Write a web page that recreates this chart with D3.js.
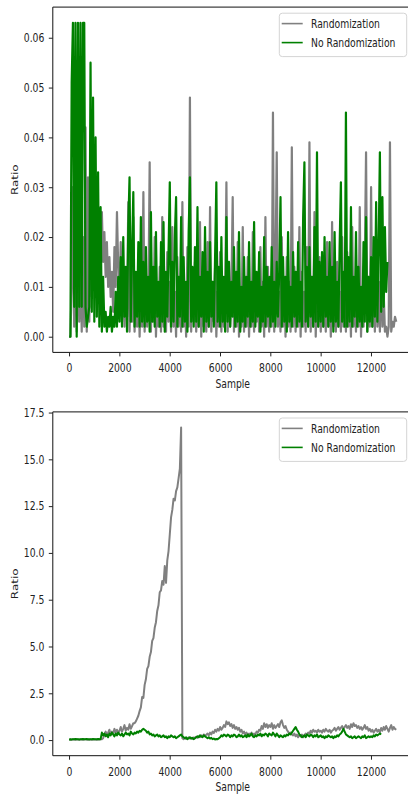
<!DOCTYPE html>
<html>
<head>
<meta charset="utf-8">
<script src="https://cdn.jsdelivr.net/npm/d3@7"></script>
<style>
  body { margin: 0; background: #fff; }
  svg { display: block; }
</style>
</head>
<body>
<div id="chart"></div>
<script>
// series names / colours shared by both panels
const seriesNames = ["Randomization", "No Randomization"]
const seriesColors = ["grey", "green"]

const xTicks = [0, 2000, 4000, 6000, 8000, 10000, 12000]
const topYTicks = [0, 0.01, 0.02, 0.03, 0.04, 0.05, 0.06]
const botYTicks = [0, 2.5, 5, 7.5, 10, 12.5, 15, 17.5]

// top panel: one value every 50 samples
const TOP_STEP = 50
const topRand = [
  0, 0, 0.010, 0.030, 0.002, 0.025, 0.001, 0.020, 0.003, 0.015, 0.001, 0.020, 0.002, 0.042, 0.001, 0.032, 0.003, 0.030, 0.008, 0.028,
  0.020, 0.012, 0.024, 0.014, 0.022, 0.013, 0.025, 0.015, 0.021, 0.012, 0.019, 0.010, 0.016, 0.008, 0.013, 0.005, 0.018, 0.010, 0.025, 0.014,
  0.006, 0.019, 0.003, 0.014, 0.002, 0.010, 0.004, 0.027, 0.001, 0.012, 0.003, 0.024, 0.001, 0.009, 0.002, 0.015, 0.000, 0.011, 0.002, 0.029,
  0.001, 0.013, 0.002, 0.008, 0.035, 0.001, 0.012, 0.003, 0.020, 0.000, 0.009, 0.002, 0.014, 0.001, 0.024, 0.002, 0.010, 0.001, 0.017, 0.003,
  0.011, 0.001, 0.022, 0.002, 0.009, 0.000, 0.016, 0.002, 0.012, 0.001, 0.027, 0.002, 0.008, 0.000, 0.018, 0.002, 0.048, 0.001, 0.011, 0.003,
  0.015, 0.001, 0.010, 0.002, 0.023, 0.000, 0.012, 0.002, 0.008, 0.001, 0.019, 0.002, 0.026, 0.001, 0.011, 0.003, 0.014, 0.000, 0.009, 0.002,
  0.017, 0.001, 0.012, 0.002, 0.008, 0.031, 0.001, 0.015, 0.002, 0.010, 0.028, 0.001, 0.013, 0.002, 0.019, 0.000, 0.009, 0.002, 0.022, 0.001,
  0.012, 0.002, 0.016, 0.000, 0.010, 0.002, 0.021, 0.001, 0.013, 0.003, 0.008, 0.001, 0.018, 0.002, 0.011, 0.000, 0.024, 0.002, 0.014, 0.001,
  0.010, 0.002, 0.045, 0.001, 0.013, 0.037, 0.002, 0.009, 0.001, 0.020, 0.002, 0.012, 0.000, 0.016, 0.002, 0.011, 0.001, 0.038, 0.002, 0.014,
  0.001, 0.010, 0.002, 0.022, 0.000, 0.013, 0.002, 0.009, 0.001, 0.018, 0.002, 0.039, 0.001, 0.012, 0.002, 0.025, 0.000, 0.011, 0.002, 0.016,
  0.001, 0.012, 0.002, 0.008, 0.001, 0.019, 0.002, 0.011, 0.000, 0.023, 0.002, 0.010, 0.001, 0.015, 0.002, 0.009, 0.001, 0.020, 0.002, 0.013,
  0.001, 0.017, 0.002, 0.011, 0.000, 0.022, 0.002, 0.009, 0.001, 0.014, 0.002, 0.026, 0.000, 0.010, 0.002, 0.015, 0.037, 0.001, 0.012, 0.002,
  0.030, 0.002, 0.014, 0.001, 0.020, 0.002, 0.011, 0.001, 0.016, 0.002, 0.009, 0.001, 0.002, 0.000, 0.002, 0.039, 0.001, 0.003, 0.002, 0.004, 0.003
]
const topNoRand = [
  0, 0, 0.051, 0.063, 0.006, 0.063, 0, 0.063, 0.006, 0.063, 0.006, 0.063, 0.063, 0.006, 0.002, 0.004, 0.006, 0.055, 0.005, 0.048,
  0.003, 0.040, 0.004, 0.033, 0.002, 0.026, 0.001, 0.012, 0.002, 0.005, 0.001, 0.004, 0.002, 0.006, 0.001, 0.004, 0.002, 0.009, 0.002, 0.012,
  0.003, 0.016, 0.002, 0.020, 0.004, 0.014, 0.001, 0.022, 0.032, 0.003, 0.017, 0.029, 0.002, 0.013, 0.004, 0.019, 0.002, 0.024, 0.003, 0.015,
  0.002, 0.018, 0.003, 0.012, 0.001, 0.025, 0.003, 0.014, 0.002, 0.021, 0.004, 0.011, 0.002, 0.019, 0.003, 0.023, 0.001, 0.013, 0.004, 0.017,
  0.031, 0.002, 0.015, 0.003, 0.020, 0.028, 0.002, 0.012, 0.004, 0.024, 0.002, 0.016, 0.003, 0.011, 0.001, 0.021, 0.032, 0.003, 0.014, 0.002,
  0.018, 0.003, 0.026, 0.002, 0.012, 0.004, 0.017, 0.001, 0.022, 0.003, 0.013, 0.002, 0.019, 0.004, 0.011, 0.002, 0.016, 0.031, 0.003, 0.014,
  0.002, 0.020, 0.003, 0.012, 0.001, 0.024, 0.003, 0.015, 0.002, 0.011, 0.004, 0.018, 0.002, 0.013, 0.003, 0.021, 0.001, 0.010, 0.003, 0.016,
  0.002, 0.012, 0.004, 0.019, 0.002, 0.011, 0.003, 0.023, 0.002, 0.013, 0.004, 0.017, 0.001, 0.010, 0.003, 0.020, 0.002, 0.014, 0.004, 0.012,
  0.002, 0.018, 0.003, 0.011, 0.002, 0.015, 0.004, 0.013, 0.028, 0.002, 0.016, 0.003, 0.012, 0.001, 0.021, 0.003, 0.010, 0.002, 0.017, 0.004,
  0.013, 0.002, 0.019, 0.003, 0.011, 0.002, 0.024, 0.035, 0.003, 0.014, 0.002, 0.018, 0.004, 0.012, 0.002, 0.022, 0.003, 0.037, 0.002, 0.015,
  0.003, 0.017, 0.002, 0.020, 0.004, 0.012, 0.002, 0.019, 0.003, 0.014, 0.001, 0.021, 0.003, 0.011, 0.002, 0.018, 0.031, 0.003, 0.013, 0.002,
  0.045, 0.002, 0.016, 0.003, 0.026, 0.002, 0.012, 0.004, 0.021, 0.002, 0.014, 0.003, 0.010, 0.002, 0.019, 0.003, 0.024, 0.001, 0.012, 0.003,
  0.016, 0.002, 0.020, 0.004, 0.027, 0.003, 0.018, 0.037, 0.005, 0.028, 0.006, 0.022, 0.009, 0.015
]

// bottom panel: one value every 50 samples too
const BOT_STEP = 50
const botRand = [
  0.02, 0.03, 0.02, 0.04, 0.03, 0.02, 0.04, 0.03, 0.02, 0.03, 0.04, 0.02, 0.03, 0.05, 0.03, 0.02, 0.04, 0.03, 0.02, 0.03,
  0.04, 0.03, 0.02, 0.04, 0.03, 0.05, 0.04, 0.10,
  0.30, 0.45, 0.25, 0.40, 0.55, 0.30, 0.45, 0.35, 0.60, 0.40, 0.55, 0.35, 0.50, 0.70, 0.45, 0.60, 0.80, 0.50, 0.65, 0.55,
  0.85, 0.60, 0.75, 0.90,
  0.90, 1.00, 1.15, 1.30, 1.55, 1.75, 2.30, 2.25, 2.95, 3.25, 3.80, 3.95, 4.45, 4.70, 5.30, 5.45, 6.00, 6.30, 6.90, 7.20,
  7.90, 8.00, 8.50, 8.30, 9.30, 8.40, 9.60, 10.1, 11.0, 11.9, 12.3, 12.9, 12.8, 13.3, 13.5, 14.0, 14.5, 16.7,
  0.10, 0.05, 0.12, 0.06, 0.10, 0.15, 0.08, 0.12, 0.07, 0.14,
  0.10, 0.18, 0.12, 0.20, 0.15, 0.25, 0.18, 0.30, 0.22, 0.28,
  0.35, 0.25, 0.40, 0.30, 0.45, 0.38, 0.55, 0.45, 0.60, 0.50,
  0.70, 0.55, 0.65, 0.80, 0.70, 1.00, 0.85, 0.95, 0.75, 0.85,
  0.65, 0.80, 0.60, 0.70, 0.55, 0.65, 0.45, 0.55, 0.35, 0.45,
  0.30, 0.40, 0.25, 0.35, 0.30, 0.40, 0.25, 0.35, 0.30, 0.45,
  0.40, 0.55, 0.50, 0.75, 0.60, 0.90, 0.70, 0.85, 0.65, 0.80,
  0.70, 0.90, 0.60, 0.80, 0.65, 0.75, 0.85, 0.70, 0.95, 1.05,
  0.80, 0.65, 0.75, 0.55, 0.45, 0.35, 0.40, 0.30, 0.25, 0.35,
  0.20, 0.30, 0.15, 0.25, 0.20, 0.30, 0.15, 0.25, 0.35, 0.30,
  0.40, 0.35, 0.50, 0.40, 0.55, 0.45, 0.50, 0.40, 0.55, 0.45,
  0.50, 0.40, 0.55, 0.45, 0.60, 0.50, 0.45, 0.55, 0.40, 0.50,
  0.55, 0.65, 0.50, 0.60, 0.70, 0.55, 0.65, 0.75, 0.60, 0.70,
  0.80, 0.65, 0.75, 0.60, 0.85, 0.70, 0.90, 0.75, 0.80, 0.65,
  0.75, 0.60, 0.70, 0.55, 0.65, 0.80, 0.60, 0.70, 0.50, 0.60,
  0.45, 0.55, 0.40, 0.50, 0.60, 0.45, 0.55, 0.40, 0.65, 0.50,
  0.70, 0.55, 0.75, 0.60, 0.45, 0.65, 0.80, 0.55, 0.70, 0.60, 0.55
]
const botNoRand = [
  0.02, 0.04, 0.03, 0.05, 0.04, 0.06, 0.04, 0.05, 0.03, 0.05, 0.04, 0.06, 0.05, 0.04, 0.06, 0.05, 0.03, 0.05, 0.04, 0.06,
  0.05, 0.04, 0.05, 0.06, 0.04, 0.05,
  0.40, 0.25, 0.35, 0.20, 0.30, 0.15, 0.35, 0.25, 0.40, 0.30, 0.20, 0.35, 0.25, 0.40, 0.30, 0.25, 0.35, 0.20, 0.30, 0.40,
  0.30, 0.35, 0.25, 0.45, 0.35, 0.30, 0.40, 0.35, 0.45, 0.40, 0.50, 0.45, 0.55, 0.60,
  0.55, 0.50, 0.40, 0.45, 0.30, 0.35, 0.25, 0.30, 0.20, 0.25, 0.30, 0.20, 0.25, 0.15, 0.20, 0.25, 0.15, 0.20, 0.10, 0.20,
  0.15, 0.25, 0.20, 0.15, 0.20, 0.10, 0.15, 0.20, 0.25, 0.30,
  0.20, 0.15, 0.10, 0.15, 0.05, 0.10, 0.15, 0.08, 0.12, 0.05,
  0.10, 0.15, 0.20, 0.15, 0.25, 0.20, 0.15, 0.25, 0.20, 0.15,
  0.10, 0.15, 0.08, 0.12, 0.05, 0.08, 0.03, 0.06, 0.04, 0.10,
  0.15, 0.25, 0.20, 0.30, 0.25, 0.20, 0.30, 0.25, 0.15, 0.25,
  0.20, 0.30, 0.25, 0.15, 0.20, 0.30, 0.20, 0.25, 0.15, 0.20,
  0.25, 0.15, 0.30, 0.20, 0.25, 0.35, 0.20, 0.15, 0.25, 0.20,
  0.30, 0.25, 0.35, 0.20, 0.30, 0.25, 0.35, 0.30, 0.20, 0.35,
  0.30, 0.25, 0.40, 0.30, 0.20, 0.35, 0.25, 0.15, 0.25, 0.20,
  0.15, 0.25, 0.20, 0.30, 0.25, 0.35, 0.30, 0.40, 0.50, 0.60,
  0.70, 0.55, 0.45, 0.30, 0.25, 0.15, 0.20, 0.25, 0.15, 0.30,
  0.25, 0.20, 0.30, 0.25, 0.15, 0.25, 0.20, 0.30, 0.15, 0.20,
  0.25, 0.15, 0.20, 0.10, 0.20, 0.15, 0.25, 0.20, 0.15, 0.20,
  0.10, 0.20, 0.15, 0.25, 0.20, 0.30, 0.35, 0.45, 0.60, 0.45,
  0.30, 0.25, 0.20, 0.15, 0.20, 0.10, 0.15, 0.20, 0.10, 0.15,
  0.20, 0.15, 0.10, 0.20, 0.15, 0.25, 0.10, 0.15, 0.20, 0.15,
  0.20, 0.15, 0.25, 0.20, 0.30, 0.25, 0.30, 0.35, 0.30
]

// the picture is squeezed horizontally, so draw in a wider box and squash it
const W = 408, H = 796, SQUASH = 0.77
const sx = px => px / SQUASH

const svg = d3.select("#chart").append("svg")
  .attr("width", W)
  .attr("height", H)
  .attr("viewBox", `0 0 ${W / SQUASH} ${H}`)
  .attr("preserveAspectRatio", "none")
  .style("font-family", "'DejaVu Sans', sans-serif")

function drawPanel(p) {
  const x = d3.scaleLinear().domain([-650, 13650]).range([sx(52.8), sx(412.6)])
  const y = d3.scaleLinear().domain(p.yDomain).range([p.bottom, p.top])
  const [x0, x1] = x.range()
  const g = svg.append("g")

  const line = d3.line()
    .x((d, i) => x(i * p.step))
    .y(d => y(d))

  p.series.forEach((vals, k) => {
    g.append("path")
      .attr("d", line(vals))
      .attr("fill", "none")
      .attr("stroke", seriesColors[k])
      .attr("stroke-width", p.lw)
      .attr("stroke-linejoin", "round")
      .attr("vector-effect", "non-scaling-stroke")
  })

  g.append("rect")
    .attr("x", x0).attr("y", p.top)
    .attr("width", x1 - x0).attr("height", p.bottom - p.top)
    .attr("fill", "none")
    .attr("stroke", "#111")
    .attr("stroke-width", 1)
    .attr("vector-effect", "non-scaling-stroke")

  const ya = g.append("g")
    .attr("transform", `translate(${x0},0)`)
    .call(d3.axisLeft(y).tickValues(p.yTicks).tickFormat(p.fmt).tickSize(sx(4)).tickPadding(sx(4.5)))
  const xa = g.append("g")
    .attr("transform", `translate(0,${p.bottom})`)
    .call(d3.axisBottom(x).tickValues(xTicks).tickFormat(d3.format("d")).tickSize(4).tickPadding(7.5))

  for (const a of [ya, xa]) {
    a.select(".domain").remove()
    a.attr("font-family", null).attr("font-size", null)
    a.selectAll(".tick line").attr("stroke", "#222").attr("vector-effect", "non-scaling-stroke")
    a.selectAll(".tick text").attr("fill", "#222").attr("font-size", "12px")
  }

  g.append("text")
    .attr("x", (x0 + x1) / 2)
    .attr("y", p.bottom + 35.5)
    .attr("text-anchor", "middle")
    .attr("font-size", "12px")
    .attr("fill", "#222")
    .text("Sample")

  g.append("text")
    .attr("transform", `translate(${sx(18.3)},${(p.top + p.bottom) / 2}) rotate(-90)`)
    .attr("text-anchor", "middle")
    .attr("font-size", "12px")
    .attr("fill", "#222")
    .text("Ratio")

  // legend, upper right
  const lg = g.append("g")
  lg.append("rect")
    .attr("x", sx(279.3)).attr("y", p.top + 6.1)
    .attr("width", sx(406.7 - 279.3)).attr("height", 43.4)
    .attr("rx", sx(3)).attr("ry", 3)
    .attr("fill", "#fff").attr("fill-opacity", 0.8)
    .attr("stroke", "#d4d4d4")
    .attr("vector-effect", "non-scaling-stroke")
  seriesNames.forEach((name, k) => {
    const ly = p.top + 16.5 + k * 19
    lg.append("line")
      .attr("x1", sx(281.7)).attr("x2", sx(302.7))
      .attr("y1", ly).attr("y2", ly)
      .attr("stroke", seriesColors[k])
      .attr("stroke-width", 1.6)
    lg.append("text")
      .attr("x", sx(311)).attr("y", ly + 4.6)
      .attr("font-size", "12px")
      .attr("fill", "#222")
      .text(name)
  })
}

drawPanel({
  top: 7.1, bottom: 352.4,
  yDomain: [-0.00315, 0.06615], yTicks: topYTicks, fmt: d3.format(".2f"),
  step: TOP_STEP, series: [topRand, topNoRand], lw: 2.2
})

drawPanel({
  top: 411.9, bottom: 755.7,
  yDomain: [-0.835, 17.535], yTicks: botYTicks, fmt: d3.format(".1f"),
  step: BOT_STEP, series: [botRand, botNoRand], lw: 2.0
})
</script>
</body>
</html>
